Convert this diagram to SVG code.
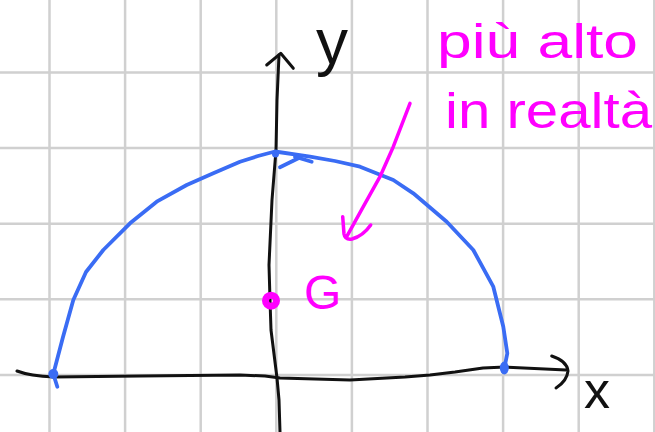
<svg xmlns="http://www.w3.org/2000/svg" width="655" height="432" viewBox="0 0 655 432">
<style>
.grid{stroke:#d0d0d0;stroke-width:2.5;fill:none}
.ink{fill:none;stroke-linecap:round;stroke-linejoin:round}
.blk{stroke:#111;stroke-width:3}
.blu{stroke:#3a6cf4;stroke-width:3.8}
.pnk{stroke:#ff00ff;stroke-width:3.5}
.lblk{font-family:"Liberation Sans",Arial,sans-serif;fill:#111}
.lpnk{font-family:"Liberation Sans",Arial,sans-serif;fill:#ff00ff}
</style>
<rect width="655" height="432" fill="#fff"/>
<g id="grid" class="grid">
<path d="M49.5,0V432M125.1,0V432M200.7,0V432M276.3,0V432M351.9,0V432M427.5,0V432M503.1,0V432M578.7,0V432M654.3,0V432"/>
<path d="M0,72.5H655M0,148.1H655M0,223.7H655M0,299.3H655M0,374.9H655"/>
</g>
<g id="x-axis">
<path class="ink blk" d="M17,371 Q30,376 54,377 L140,376 L240,375 L265,376 L280,378 L350,380 L405,377 L430,375 L455,372 L483,368 L505,367 L566,370"/>
<path class="ink blk" d="M551.7,356 Q567,361 568,371 Q567,381 556,388"/>
<text class="lblk" x="584" y="408" font-size="52">x</text>
</g>
<g id="y-axis">
<path class="ink blk" d="M280,432 L279,400 L277,378 L271,330 L270,300 L269,265 L272,200 L276,150 L277,100 L279,55"/>
<path class="ink blk" d="M266.7,65 L280.7,53.3 L293.3,68.3"/>
<text class="lblk" x="316" y="64" font-size="64">y</text>
</g>
<g id="semicircle">
<path class="ink blu" d="M57.3,386.7 L53.3,374 L63,337 L73.3,300 L86,272 L103.3,250 L130,223.3 L156.7,201.7 L186.7,185 L213.3,173.3 L240,161.7 L258,156 L275,151.5 L310,156.7 L335,161 L360,166.7 L393.3,180 L413.3,193.3 L446.7,221.7 L473.3,250 L493.3,286.7 L503.3,326.7 L507.3,353.3 L504.3,368.3"/>
<path class="ink blu" d="M280,167.3 L298.3,158.3 M295,156.7 L311.7,161.7"/>
<circle cx="53.3" cy="374" r="5" fill="#3a6cf4"/>
<ellipse cx="504.3" cy="368" rx="4.5" ry="6.5" fill="#3a6cf4"/>
<circle cx="275.5" cy="154" r="3.5" fill="#3a6cf4"/>
</g>
<g id="centroid-G">
<circle cx="271" cy="300.7" r="5.5" fill="none" stroke="#ff00ff" stroke-width="7"/>
<text class="lpnk" x="304" y="309" font-size="48">G</text>
</g>
<g id="note">
<text class="lpnk" x="437" y="58" font-size="48" textLength="201" lengthAdjust="spacingAndGlyphs">più alto</text>
<text class="lpnk" x="445" y="128" font-size="50" textLength="207" lengthAdjust="spacingAndGlyphs">in realtà</text>
</g>
<g id="connectors">
<path class="ink pnk" d="M410,103.3 L393.3,146.7 L380,176.7 L363.3,206.7 L346.7,236.7"/>
<path class="ink pnk" d="M342.7,216.7 L344,234 Q345,240 352,239 Q363,236 370.7,225"/>
</g>
</svg>
